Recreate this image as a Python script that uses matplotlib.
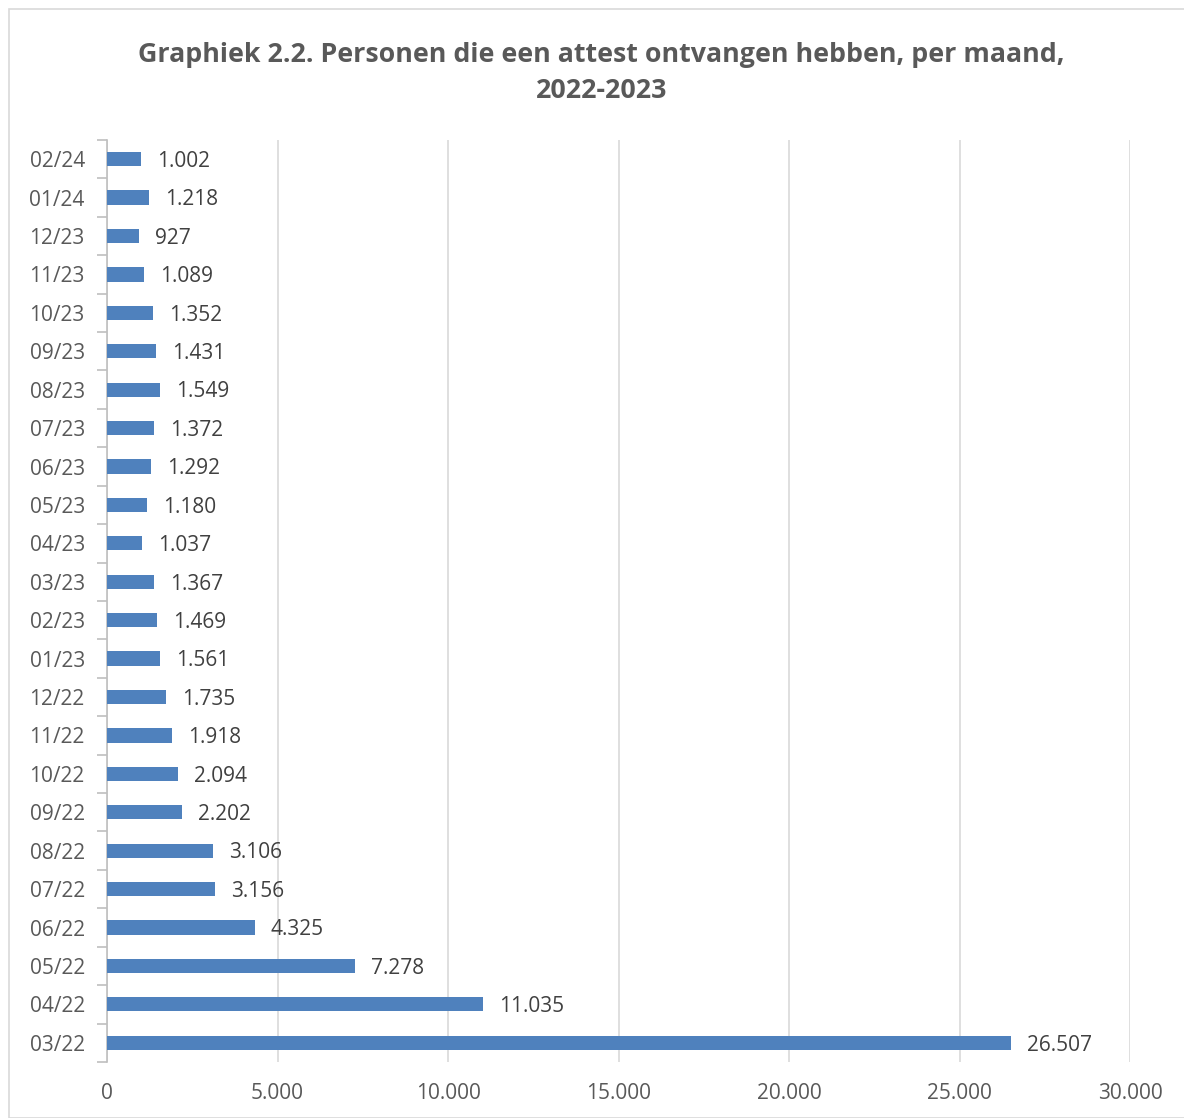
import matplotlib.pyplot as plt
import numpy as np
from matplotlib.patches import Rectangle
from matplotlib.ticker import FuncFormatter, FixedLocator

# months, bottom to top as in the chart
months = ['03/22', '04/22', '05/22', '06/22', '07/22', '08/22', '09/22', '10/22',
          '11/22', '12/22', '01/23', '02/23', '03/23', '04/23', '05/23', '06/23',
          '07/23', '08/23', '09/23', '10/23', '11/23', '12/23', '01/24', '02/24']
persons = [26507, 11035, 7278, 4325, 3156, 3106, 2202, 2094,
           1918, 1735, 1561, 1469, 1367, 1037, 1180, 1292,
           1372, 1549, 1431, 1352, 1089, 927, 1218, 1002]

title = 'Graphiek 2.2. Personen die een attest ontvangen hebben, per maand,\n2022-2023'


def dots(v, pos=None):
    return f'{int(v):,}'.replace(',', '.')


def main():
    plt.rcParams['font.family'] = ['Open Sans', 'DejaVu Sans']

    fig = plt.figure(figsize=(11.84, 11.18), dpi=100)
    ax = fig.add_axes([0.0904, 0.0501, 0.864, 0.8247])

    # outer chart border
    fig.patches.append(Rectangle((9 / 1184, 0), 1.2, 1 - 9 / 1118,
                                 transform=fig.transFigure, fill=False,
                                 edgecolor='#D9D9D9', linewidth=1.2))

    y = np.arange(len(months))
    ax.barh(y, persons, height=0.37, color='#4F81BD', zorder=3)

    for yi, v in zip(y, persons):
        ax.text(v + 470, yi - 0.06, dots(v), va='center', ha='left',
                fontsize=15, color='#404040')

    ax.set_xlim(0, 30000)
    ax.set_ylim(-0.5, len(months) - 0.5)
    ax.set_xticks(range(0, 30001, 5000))
    ax.xaxis.set_major_formatter(FuncFormatter(dots))
    ax.set_yticks(y)
    ax.set_yticklabels(months)
    ax.yaxis.set_minor_locator(FixedLocator(np.arange(-0.5, len(months), 1)))

    ax.grid(axis='x', color='#D9D9D9', linewidth=1.2, zorder=0)
    for s in ['top', 'right', 'bottom']:
        ax.spines[s].set_visible(False)
    ax.spines['left'].set_color('#BFBFBF')
    ax.spines['left'].set_linewidth(1.2)

    ax.tick_params(axis='x', length=0, labelsize=15, labelcolor='#595959', pad=15)
    ax.tick_params(axis='y', which='major', length=0, labelsize=15,
                   labelcolor='#595959', pad=16)
    ax.tick_params(axis='y', which='minor', length=7, color='#BFBFBF', width=1.2)

    fig.text(0.508, 0.935, title, ha='center', va='center', fontsize=19.3,
             fontweight='bold', color='#595959', linespacing=1.5)

    fig.savefig('out.png', dpi=100)


if __name__ == '__main__':
    main()
